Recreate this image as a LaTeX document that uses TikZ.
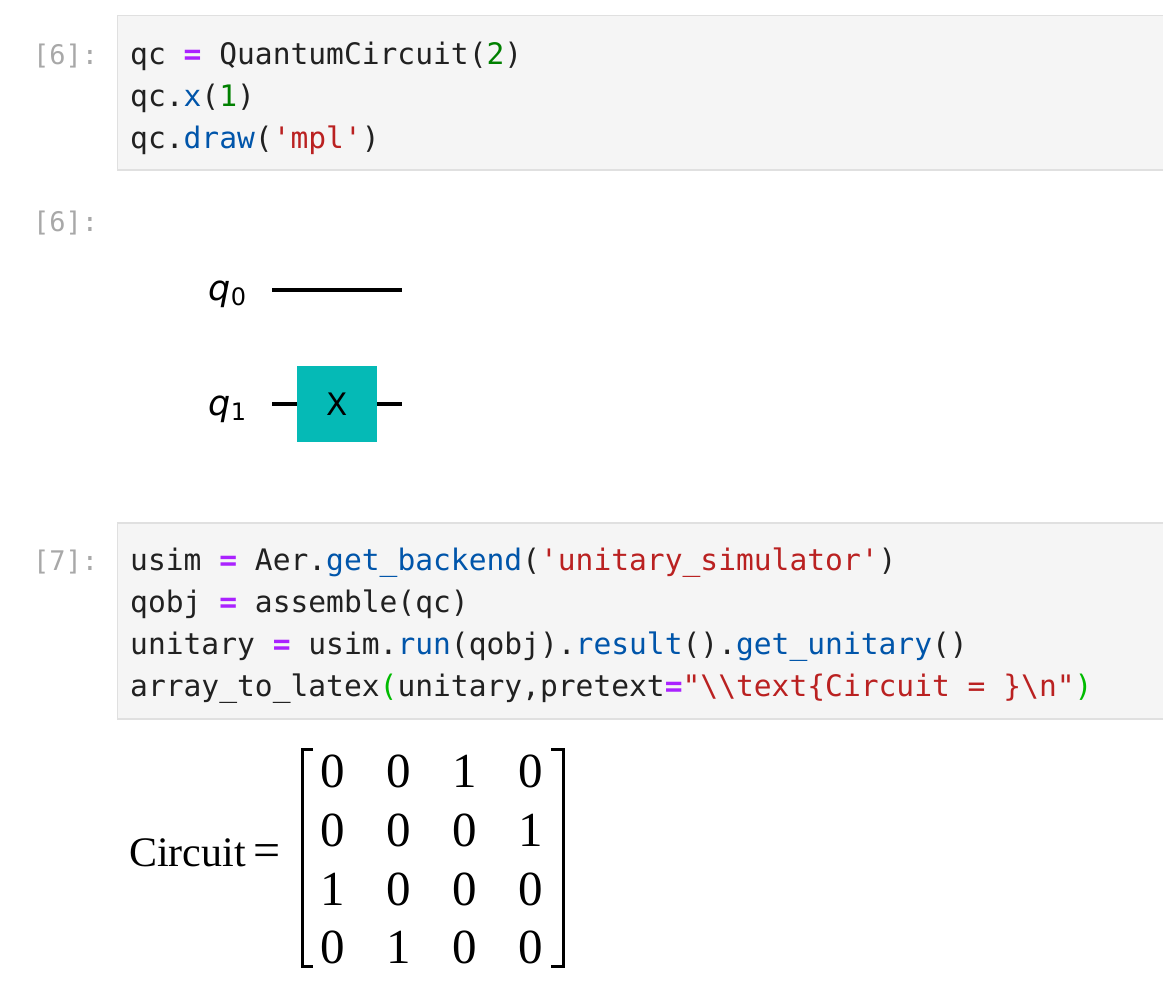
\documentclass[tikz,border=0pt]{standalone}
\usepackage{fontspec}
\setmonofont{DejaVu Sans Mono}
\newfontfamily\dvsans{DejaVu Sans}
\newfontfamily\serifmat{Liberation Serif}
\definecolor{codetext}{HTML}{212121}
\definecolor{opcol}{HTML}{AA22FF}
\definecolor{numcol}{HTML}{008000}
\definecolor{propcol}{HTML}{0055AA}
\definecolor{strcol}{HTML}{BA2121}
\definecolor{matchcol}{HTML}{00BB00}
\definecolor{promptcol}{HTML}{A8A8A8}
\definecolor{cellbg}{HTML}{F5F5F5}
\definecolor{cellborder}{HTML}{E0E0E0}
\definecolor{gatecol}{HTML}{05BAB6}
\newcommand\cop[1]{\textcolor{opcol}{\bfseries #1}}
\newcommand\cnum[1]{\textcolor{numcol}{#1}}
\newcommand\cprop[1]{\textcolor{propcol}{#1}}
\newcommand\cstr[1]{\textcolor{strcol}{#1}}
\newcommand\cmatch[1]{\textcolor{matchcol}{#1}}
\newcommand\codefont{\fontsize{29.6}{35}\selectfont\ttfamily\frenchspacing}
\newcommand\promptfont{\fontsize{27}{32}\selectfont\ttfamily}
\newcommand\qlab[1]{\fontsize{35}{35}\selectfont\dvsans\itshape q\kern0.5pt\raisebox{-5pt}{\fontsize{24}{24}\selectfont\upshape #1}}
\tikzset{
  codeline/.style={anchor=base west, inner sep=0pt, font=\codefont, text=codetext},
  promptline/.style={anchor=base west, inner sep=0pt, font=\promptfont, text=promptcol},
  cellbox/.style={fill=cellbg, draw=cellborder, line width=1.5pt},
  wire/.style={line width=4pt, black},
  gatebox/.style={fill=gatecol, draw=none, minimum width=80pt, minimum height=76pt, inner sep=0pt, font=\fontsize{31}{31}\selectfont\dvsans},
  qlabel/.style={anchor=base west, inner sep=0pt},
  entry/.style={anchor=base, inner sep=0pt, font=\fontsize{49}{49}\selectfont\serifmat},
  bracket/.style={line width=3pt, black},
}
\begin{document}
\begin{tikzpicture}[x=1pt,y=-1pt]
\useasboundingbox (0,0) rectangle (1163,988);
\clip (0,0) rectangle (1163,988);
\fill[white] (0,0) rectangle (1163,988);

% cell 6 input
\draw[cellbox] (117.5,15.5) rectangle (1175,170);
\node[promptline] (p6a) at (33,64) {[6]:};
\node[codeline] (c1l1) at (130,64) {qc \cop{=} QuantumCircuit(\cnum{2})};
\node[codeline] (c1l2) at (130,106) {qc.\cprop{x}(\cnum{1})};
\node[codeline] (c1l3) at (130,148) {qc.\cprop{draw}(\cstr{'mpl'})};

% cell 6 output
\node[promptline] (p6b) at (33,231) {[6]:};
\node[qlabel] (q0) at (208,300) {\qlab{0}};
\node[qlabel] (q1) at (208,415) {\qlab{1}};
\node[gatebox] (gx) at (337,404) {X};
\coordinate (w0a) at (272,290);
\coordinate (w0b) at (402,290);
\coordinate (w1a) at (272,404);
\coordinate (w1b) at (402,404);
\draw[wire] (w0a) -- (w0b);
\draw[wire] (w1a) -- (gx.west);
\draw[wire] (gx.east) -- (w1b);

% cell 7 input
\draw[cellbox] (117.5,523) rectangle (1175,719);
\node[promptline] (p7) at (33,570) {[7]:};
\node[codeline] (c2l1) at (130,570) {usim \cop{=} Aer.\cprop{get\_backend}(\cstr{'unitary\_simulator'})};
\node[codeline] (c2l2) at (130,612) {qobj \cop{=} assemble(qc)};
\node[codeline] (c2l3) at (130,654) {unitary \cop{=} usim.\cprop{run}(qobj).\cprop{result}().\cprop{get\_unitary}()};
\node[codeline] (c2l4) at (130,696) {array\_to\_latex\cmatch{(}unitary,pretext\cop{=}\cstr{"\textbackslash\textbackslash text\{Circuit = \}\textbackslash n"}\cmatch{)}};

% cell 7 output
\node[anchor=base west, inner sep=0pt, font=\fontsize{42}{42}\selectfont\serifmat] (circ) at (129,866) {Circuit\kern8pt{\fontsize{48}{48}\selectfont=}};
\node[entry] (m11) at (333,787) {0};
\node[entry] (m12) at (399,787) {0};
\node[entry] (m13) at (465,787) {1};
\node[entry] (m14) at (531,787) {0};
\node[entry] (m21) at (333,846) {0};
\node[entry] (m22) at (399,846) {0};
\node[entry] (m23) at (465,846) {0};
\node[entry] (m24) at (531,846) {1};
\node[entry] (m31) at (333,905) {1};
\node[entry] (m32) at (399,905) {0};
\node[entry] (m33) at (465,905) {0};
\node[entry] (m34) at (531,905) {0};
\node[entry] (m41) at (333,963) {0};
\node[entry] (m42) at (399,963) {1};
\node[entry] (m43) at (465,963) {0};
\node[entry] (m44) at (531,963) {0};
\draw[bracket] (313,749) -- (302,749) -- (302,966) -- (313,966);
\draw[bracket] (551,749) -- (563,749) -- (563,966) -- (551,966);
\end{tikzpicture}
\end{document}
